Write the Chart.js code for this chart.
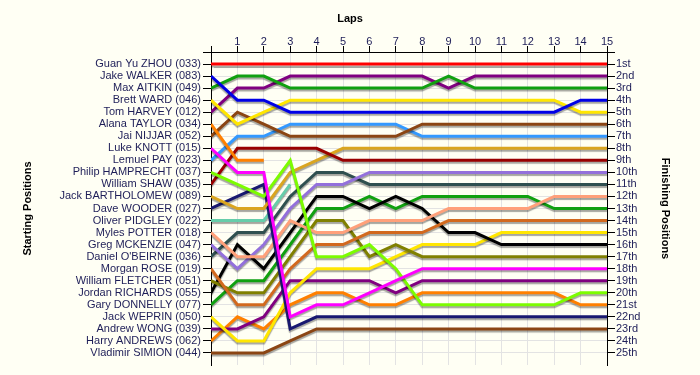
<!DOCTYPE html>
<html>
<head>
<meta charset="utf-8">
<script src="https://cdn.jsdelivr.net/npm/chart.js@4/dist/chart.umd.min.js"></script>
<style>
  html, body { margin: 0; padding: 0; background: #fffff4; }
  #wrap { width: 700px; height: 375px; }
</style>
</head>
<body>
<div id="wrap"><canvas id="c" width="700" height="375"></canvas></div>
<script>
// ---- data ----
const laps = [0,1,2,3,4,5,6,7,8,9,10,11,12,13,14,15];
const drivers = [
  "Guan Yu ZHOU (033)", "Jake WALKER (083)", "Max AITKIN (049)", "Brett WARD (046)",
  "Tom HARVEY (012)", "Alana TAYLOR (034)", "Jai NIJJAR (052)", "Luke KNOTT (015)",
  "Lemuel PAY (023)", "Philip HAMPRECHT (037)", "William SHAW (035)", "Jack BARTHOLOMEW (089)",
  "Dave WOODER (027)", "Oliver PIDGLEY (022)", "Myles POTTER (018)", "Greg MCKENZIE (047)",
  "Daniel O'BEIRNE (036)", "Morgan ROSE (019)", "William FLETCHER (051)", "Jordan RICHARDS (055)",
  "Gary DONNELLY (077)", "Jack WEPRIN (050)", "Andrew WONG (039)", "Harry ANDREWS (062)",
  "Vladimir SIMION (044)"
];
const finishLabels = ["1st","2nd","3rd","4th","5th","6th","7th","8th","9th","10th","11th","12th","13th",
  "14th","15th","16th","17th","18th","19th","20th","21st","22nd","23rd","24th","25th"];

// position at lap 0..15 (null = retired)
const posZHOU       = [1,1,1,1,1,1,1,1,1,1,1,1,1,1,1,1];
const posWALKER     = [2,4,4,5,5,5,5,5,5,5,5,5,5,5,4,4];
const posAITKIN     = [3,2,2,3,3,3,3,3,3,2,3,3,3,3,3,3];
const posWARD       = [4,6,5,4,4,4,4,4,4,4,4,4,4,4,5,5];
const posHARVEY     = [5,3,3,2,2,2,2,2,2,3,2,2,2,2,2,2];
const posTAYLOR     = [6,9,9,null,null,null,null,null,null,null,null,null,null,null,null,null];
const posNIJJAR     = [7,5,6,7,7,7,7,7,6,6,6,6,6,6,6,6];
const posKNOTT      = [8,10,10,22,21,21,20,19,18,18,18,18,18,18,18,18];
const posPAY        = [9,7,7,6,6,6,6,6,7,7,7,7,7,7,7,7];
const posHAMPRECHT  = [10,11,12,9,17,17,16,18,21,21,21,21,21,21,20,20];
const posSHAW       = [11,8,8,8,8,9,9,9,9,9,9,9,9,9,9,9];
const posBARTHOLOMEW= [12,13,13,10,9,8,8,8,8,8,8,8,8,8,8,8];
const posWOODER     = [13,12,11,23,22,22,22,22,22,22,22,22,22,22,22,22];
const posPIDGLEY    = [14,14,14,11,null,null,null,null,null,null,null,null,null,null,null,null];
const posPOTTER     = [15,17,17,14,15,15,14,14,14,13,13,13,13,12,12,12];
const posMCKENZIE   = [16,18,16,13,11,11,10,10,10,10,10,10,10,10,10,10];
const posOBEIRNE    = [17,15,15,12,10,10,11,11,11,11,11,11,11,11,11,11];
const posROSE       = [18,21,21,18,16,16,15,15,15,14,14,14,14,14,14,14];
const posFLETCHER   = [19,20,20,17,14,14,17,16,17,17,17,17,17,17,17,17];
const posRICHARDS   = [20,16,18,15,12,12,13,12,13,15,15,16,16,16,16,16];
const posDONNELLY   = [21,19,19,16,13,13,12,13,12,12,12,12,12,13,13,13];
const posWEPRIN     = [22,24,24,20,18,18,18,17,16,16,16,15,15,15,15,15];
const posWONG       = [23,23,22,19,19,19,19,20,19,19,19,19,19,19,19,19];
const posANDREWS    = [24,22,23,21,20,20,21,21,20,20,20,20,20,20,21,21];
const posSIMION     = [25,25,25,24,23,23,23,23,23,23,23,23,23,23,23,23];

const series = [posZHOU,posWALKER,posAITKIN,posWARD,posHARVEY,posTAYLOR,posNIJJAR,posKNOTT,
  posPAY,posHAMPRECHT,posSHAW,posBARTHOLOMEW,posWOODER,posPIDGLEY,posPOTTER,posMCKENZIE,
  posOBEIRNE,posROSE,posFLETCHER,posRICHARDS,posDONNELLY,posWEPRIN,posWONG,posANDREWS,posSIMION];

// ---- styles ----
const lineColors = ["#ff0000","#0000e6","#10a010","#ffe600","#800080","#ff8000","#8b4513","#ff00ff",
  "#3399ff","#7cfc00","#990000","#daa520","#191970","#66cdaa","#ffa07a","#9370db",
  "#2f4f4f","#d2691e","#808000","#000000","#10a010","#ffe600","#800080","#ff8000","#8b4513"];
const labelColor = "#1e1e58";
const gridColor = "#e3e3e3";

const datasets = series.map((s, i) => ({
  label: drivers[i],
  data: laps.map((l, j) => ({x: l, y: s[j]})),
  borderColor: lineColors[i],
  backgroundColor: lineColors[i],
  borderWidth: 3,
  pointRadius: 0,
  tension: 0,
  spanGaps: false,
  fill: false
}));

const bgPlugin = {
  id: 'bg',
  beforeDraw(chart) {
    const c = chart.ctx;
    c.save();
    c.fillStyle = '#fffff4';
    c.fillRect(0, 0, chart.width, chart.height);
    c.restore();
  }
};
const shadowPlugin = {
  id: 'shadow',
  beforeDatasetDraw(chart) {
    const c = chart.ctx;
    c.save();
    c.shadowColor = 'rgba(0,0,0,0.35)';
    c.shadowOffsetX = 0;
    c.shadowOffsetY = 2;
    c.shadowBlur = 1;
  },
  afterDatasetDraw(chart) { chart.ctx.restore(); }
};

const tickFont = {family: "'Liberation Sans', Arial, sans-serif", size: 11};
const titleFont = {family: "'Liberation Sans', Arial, sans-serif", size: 11, weight: 'bold'};
const posTicks = (scale) => { scale.ticks = Array.from({length: 26}, (_, k) => ({value: k})); };

new Chart(document.getElementById('c'), {
  type: 'line',
  data: { datasets },
  plugins: [bgPlugin, shadowPlugin],
  options: {
    responsive: false,
    animation: false,
    devicePixelRatio: 1,
    layout: { padding: { left: 0, right: 0, top: 0, bottom: 10 } },
    plugins: {
      legend: { display: false },
      tooltip: { enabled: false },
      title: {
        display: true, text: 'Laps', color: '#000', font: titleFont,
        padding: { top: 12, bottom: 2.8 }
      }
    },
    scales: {
      x: {
        type: 'linear', position: 'top', min: 0, max: 15,
        afterBuildTicks: (s) => { s.ticks = laps.map(v => ({value: v})); },
        ticks: { color: labelColor, font: tickFont, padding: -3, maxRotation: 0, autoSkip: false,
                 callback: (v) => v === 0 ? '' : String(v) },
        grid: { color: gridColor, tickColor: '#000', tickLength: 6, lineWidth: 1 },
        border: { color: '#000', width: 1 },
        afterFit: (s) => { s.height = 24; }
      },
      y: {
        type: 'linear', position: 'left', min: 0, max: 26, reverse: true,
        afterBuildTicks: posTicks,
        ticks: { color: labelColor, font: tickFont, padding: 2, autoSkip: false,
                 callback: (v) => drivers[v - 1] || '' },
        grid: { color: gridColor, tickColor: '#000', tickLength: 8, lineWidth: 1 },
        border: { color: '#000', width: 1 },
        title: { display: true, text: 'Starting Positions', color: '#000', font: titleFont,
                 padding: { top: 21, bottom: 0 } },
        afterFit: (s) => { s.width = 211; }
      },
      y2: {
        type: 'linear', position: 'right', min: 0, max: 26, reverse: true,
        afterBuildTicks: posTicks,
        ticks: { color: labelColor, font: tickFont, padding: 1, autoSkip: false,
                 callback: (v) => finishLabels[v - 1] || '' },
        grid: { drawOnChartArea: false, tickColor: '#000', tickLength: 8, lineWidth: 1 },
        border: { color: '#000', width: 1 },
        title: { display: true, text: 'Finishing Positions', color: '#000', font: titleFont,
                 padding: { top: 28, bottom: 0 } },
        afterFit: (s) => { s.width = 93; }
      }
    }
  }
});
</script>
</body>
</html>
